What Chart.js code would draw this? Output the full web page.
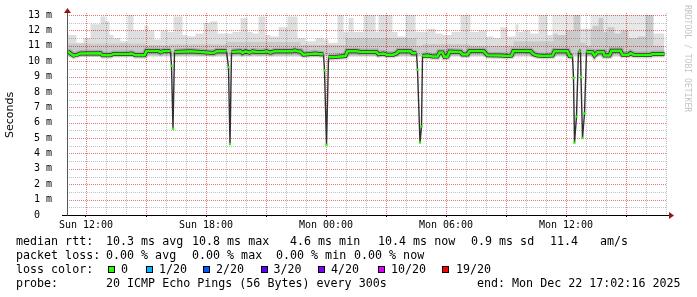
<!DOCTYPE html>
<html><head><meta charset="utf-8">
<script src="https://cdn.jsdelivr.net/npm/chart.js@4.4.1/dist/chart.umd.min.js"></script>
<style>
html,body{margin:0;padding:0;background:#fff;}
#wrap{position:relative;width:697px;height:297px;overflow:hidden;background:#fff;}
#c{position:absolute;left:0;top:0;}
.t{position:absolute;font-family:'DejaVu Sans Mono',monospace;font-size:11.67px;line-height:14px;white-space:pre;color:#000;}
.box{position:absolute;width:7px;height:7px;box-sizing:border-box;border:1px solid #000;}
#wm{position:absolute;left:683px;top:5px;writing-mode:vertical-rl;font-family:'DejaVu Sans Mono',monospace;font-size:8.1px;line-height:9px;color:#c4c4c4;white-space:pre;}
</style></head>
<body><div id="wrap"><canvas id="c" width="697" height="297"></canvas><div id="legend"></div><div id="wm">RRDTOOL / TOBI OETIKER</div></div>
<script>
// ---- data (time in hours since Sun 00:00, values in ms) ----
const medianHours = [11.075,11.175,11.375,11.575,11.725,12.725,12.825,13.225,13.375,14.125,14.275,14.475,14.925,15.025,15.625,15.725,15.875,16.225,16.275,16.35,16.425,17.225,17.725,18.375,18.525,19.025,19.125,19.2,19.275,19.725,19.825,19.975,20.175,20.325,20.575,20.875,21.025,21.225,21.425,22.325,22.425,22.625,22.725,22.875,23.225,23.475,23.725,23.875,23.925,24.025,24.125,24.475,24.725,24.975,25.075,25.475,25.725,26.525,26.625,26.875,27.025,27.375,27.525,27.625,28.225,28.325,28.525,28.575,28.7,28.775,28.825,29.075,29.325,29.575,29.675,29.825,29.925,30.075,30.175,30.725,30.825,31.075,31.175,31.875,32.075,32.725,33.075,33.275,33.375,34.225,34.375,34.575,34.875,35.325,35.425,36.075,36.175,36.325,36.375,36.425,36.525,36.625,36.725,36.75,36.825,36.925,37.025,37.325,37.425,37.575,37.875,37.925,38.175,38.275,38.725,38.825,39.125,39.225,39.375,39.575,40.225,40.325,40.925];
const medianMs = [10.64,10.55,10.36,10.42,10.50,10.52,10.38,10.38,10.47,10.47,10.50,10.38,10.38,10.66,10.66,10.58,10.66,10.66,9.70,5.60,10.60,10.64,10.60,10.53,10.64,10.64,9.60,4.60,10.60,10.64,10.53,10.64,10.55,10.64,10.60,10.60,10.64,10.55,10.64,10.64,10.70,10.62,10.62,10.42,10.47,10.50,10.45,10.45,9.40,4.56,10.25,10.27,10.30,10.33,10.64,10.66,10.60,10.60,10.45,10.50,10.42,10.42,10.50,10.64,10.64,10.52,10.52,9.45,4.70,5.75,10.33,10.36,10.31,10.31,10.57,10.57,10.27,10.30,10.62,10.60,10.44,10.44,10.66,10.66,10.38,10.36,10.33,10.36,10.66,10.66,10.45,10.36,10.33,10.36,10.64,10.64,10.33,10.31,8.90,4.70,6.40,10.64,10.60,8.97,5.00,6.60,10.60,10.58,10.36,10.58,10.58,10.36,10.36,10.68,10.68,10.42,10.42,10.52,10.42,10.40,10.40,10.47,10.47];
const smokeHours = [11.075,11.125,11.525,11.875,12.225,12.725,12.975,13.175,13.375,13.725,14.075,14.375,14.925,15.125,15.425,15.725,16.075,16.375,16.825,17.075,17.475,17.875,18.225,18.575,18.825,19.325,19.725,20.075,20.325,20.625,20.975,21.225,21.625,22.075,22.575,22.975,23.475,23.875,24.125,24.575,24.875,25.125,25.375,25.875,26.475,26.625,27.325,27.575,27.975,28.475,29.075,29.475,29.825,30.275,30.725,31.225,31.625,32.025,32.375,32.725,33.075,33.475,33.625,33.825,34.225,34.625,35.075,35.325,35.375,35.575,35.975,36.375,36.725,37.325,37.625,37.875,38.075,38.425,38.725,39.125,39.575,39.975,40.375,40.575,40.925];
const smokeMaxMs = [12.8,11.84,11.7,11.2,11.5,12.4,12.9,12.6,11.7,11.5,11.3,13.2,12.0,12.3,12.0,11.4,12.0,11.9,12.9,11.7,11.6,11.8,12.5,12.6,11.8,11.8,11.9,12.8,11.9,11.8,12.9,11.7,11.6,12.2,12.9,11.5,11.3,11.5,11.4,11.2,13.2,11.9,12.8,11.9,13.2,11.9,13.2,11.9,11.6,13.2,11.9,12.1,11.8,11.7,11.9,13.2,11.9,12.0,11.6,11.5,12.2,11.6,12.4,11.9,12.0,11.8,13.2,11.7,13.2,11.8,11.7,12.0,13.2,12.1,12.3,12.8,11.9,12.2,11.8,12.0,11.5,11.6,13.2,11.8,11.8];
const smokeMidHours = [11.075,14.975,16.225,19.025,22.725,24.975,28.525,28.825,31.225,33.375,35.375,36.725,36.975,37.225,40.375,40.575,40.925];
const smokeMidMs = [10.95,11.15,11.05,11.1,11.25,11.05,11.5,11.0,11.1,11.0,11.3,13.2,11.2,11.0,13.2,11.0,11.0];
const timeTickHours = [12,18,24,30,36];
const timeTickLabels = ['Sun 12:00','Sun 18:00','Mon 00:00','Mon 06:00','Mon 12:00'];
const lossLabels = ['0','1/20','2/20','3/20','4/20','10/20','19/20'];
const lossColors = ['#26ff00','#00b8ff','#0059ff','#5e00ff','#7e00ff','#dd00ff','#ff0000'];

// ---- legend text (HTML) ----
const legendRows = [
  {top:234, items:[[16,'median rtt:'],[106,'10.3 ms avg'],[192,'10.8 ms max'],[290,'4.6 ms min'],[378,'10.4 ms now'],[471,'0.9 ms sd'],[550,'11.4'],[600,'am/s']]},
  {top:248.3, items:[[16,'packet loss:'],[106,'0.00 % avg'],[192,'0.00 % max'],[276,'0.00 % min'],[354,'0.00 % now']]},
  {top:262.3, items:[[16,'loss color:']]},
  {top:276.3, items:[[16,'probe:'],[106,'20 ICMP Echo Pings (56 Bytes) every 300s'],[477,'end: Mon Dec 22 17:02:16 2025']]}
];
const boxX = [108,146,203,261,318,378,442];
const boxLabelX = [121,159,216,273.5,331,391,456];
const legendEl = document.getElementById('legend');
legendRows.forEach(r => r.items.forEach(([x,txt]) => {
  const d = document.createElement('div'); d.className='t'; d.style.left=x+'px'; d.style.top=r.top+'px'; d.textContent=txt; legendEl.appendChild(d);
}));
lossLabels.forEach((lab,i) => {
  const b = document.createElement('div'); b.className='box'; b.style.left=boxX[i]+'px'; b.style.top='266px'; b.style.background=lossColors[i]; legendEl.appendChild(b);
  const d = document.createElement('div'); d.className='t'; d.style.left=boxLabelX[i]+'px'; d.style.top='262.3px'; d.textContent=lab; legendEl.appendChild(d);
});

// ---- chart ----
const medianPts = medianHours.map((h,i)=>({x:h,y:medianMs[i]}));
const smokePts = smokeHours.map((h,i)=>({x:h,y:smokeMaxMs[i]}));
const smokeMidPts = smokeMidHours.map((h,i)=>({x:h,y:smokeMidMs[i]}));
const big = c => Math.abs(c.p1.parsed.y - c.p0.parsed.y) > 0.8;
const RED = '#e87474', GRAY = '#c2c2c2';

const dottedGrid = {
  id:'dottedGrid',
  beforeDatasetsDraw(chart){
    const {ctx, chartArea:a, scales:{x,y}} = chart;
    ctx.save();
    ctx.lineWidth = 1;
    ctx.setLineDash([1,1]);
    x.ticks.forEach(t => {
      const px = Math.round(x.getPixelForValue(t.value)) + 0.5;
      ctx.strokeStyle = (t.value % 3 === 0) ? RED : GRAY;
      ctx.beginPath(); ctx.moveTo(px, a.top - 2); ctx.lineTo(px, a.bottom); ctx.stroke();
    });
    y.ticks.forEach(t => {
      if (t.value === 0) return;
      const py = Math.round(y.getPixelForValue(t.value)) + 0.5;
      ctx.strokeStyle = Number.isInteger(t.value) ? RED : GRAY;
      ctx.beginPath(); ctx.moveTo(a.left, py); ctx.lineTo(a.right, py); ctx.stroke();
    });
    ctx.restore();
  }
};

const axisArrows = {
  id:'axisArrows',
  afterDraw(chart){
    const {ctx, chartArea:a, scales:{x,y}} = chart;
    const y0 = Math.round(y.getPixelForValue(0)) + 0.5;
    const x0 = Math.round(x.left) + 0.5;
    ctx.save();
    ctx.lineWidth = 1;
    ctx.strokeStyle = '#000';
    ctx.beginPath(); ctx.moveTo(62, y0); ctx.lineTo(a.right+3, y0); ctx.stroke();
    ctx.strokeStyle = '#555';
    ctx.beginPath(); ctx.moveTo(x0, y0); ctx.lineTo(x0, a.top-3); ctx.stroke();
    ctx.fillStyle = '#8b1a1a';
    ctx.beginPath(); ctx.moveTo(a.right+2, y0-3.5); ctx.lineTo(a.right+7, y0); ctx.lineTo(a.right+2, y0+3.5); ctx.closePath(); ctx.fill();
    ctx.beginPath(); ctx.moveTo(x0-3.5, a.top-2); ctx.lineTo(x0, a.top-7); ctx.lineTo(x0+3.5, a.top-2); ctx.closePath(); ctx.fill();
    ctx.restore();
  }
};

new Chart(document.getElementById('c'), {
  type:'line',
  data:{datasets:[
    {data:medianPts, borderColor:'#26ff00', borderWidth:2.5, order:1, pointStyle:'rect',
     pointRadius:c=>(c.raw && c.raw.y<10)?1.6:0, pointBackgroundColor:'#26ff00', pointBorderWidth:0,
     segment:{borderColor:c=>big(c)?'rgba(0,0,0,0)':undefined}},
    {data:medianPts, borderColor:'#303030', borderWidth:4, order:2, pointRadius:0,
     segment:{borderWidth:c=>big(c)?1.4:undefined}},
    {data:medianPts, borderColor:'rgba(0,0,0,0.15)', borderWidth:7, order:3, pointRadius:0,
     segment:{borderColor:c=>big(c)?'rgba(0,0,0,0)':undefined}},
    {data:smokeMidPts, stepped:'after', borderWidth:0, pointRadius:0, order:4,
     backgroundColor:'rgba(0,0,0,0.09)', fill:{value:10.3}},
    {data:smokePts, stepped:'after', borderWidth:0, pointRadius:0, order:5,
     backgroundColor:'rgba(0,0,0,0.13)', fill:{value:10.3}}
  ]},
  options:{
    responsive:false, animation:false, devicePixelRatio:1,
    layout:{padding:{left:0,right:30,top:15,bottom:62}},
    plugins:{legend:{display:false}, tooltip:{enabled:false}},
    scales:{
      x:{type:'linear', min:11.05, max:41.05,
         afterBuildTicks:s=>{const t=[];for(let h=12;h<=41;h++)t.push({value:h});s.ticks=t;},
         afterFit:s=>{s.height=20;},
         ticks:{autoSkip:false, maxRotation:0, padding:2, color:'#000',
                font:{family:'DejaVu Sans Mono', size:10},
                callback:v=>{const i=timeTickHours.indexOf(v);return i>=0?timeTickLabels[i]:'';}},
         grid:{display:true, drawOnChartArea:false, color:'rgba(0,0,0,0)', drawTicks:true, tickLength:2,
               tickColor:c=>(c.tick && c.tick.value%3===0)?'#000':'rgba(0,0,0,0)'},
         border:{display:false}},
      y:{min:0, max:13,
         afterBuildTicks:s=>{const t=[];for(let v=0;v<=26;v++)t.push({value:v/2});s.ticks=t;},
         afterFit:s=>{s.width=67;},
         ticks:{autoSkip:false, padding:7, color:'#000', font:{family:'DejaVu Sans Mono', size:10},
                callback:v=>Number.isInteger(v)?(v===0?'0  ':v+' m'):''},
         title:{display:true, text:'Seconds', color:'#000', font:{family:'DejaVu Sans', size:11}, padding:{top:4,bottom:0}},
         grid:{display:false},
         border:{display:false}}
    }
  },
  plugins:[dottedGrid, axisArrows]
});
</script>
</body></html>
